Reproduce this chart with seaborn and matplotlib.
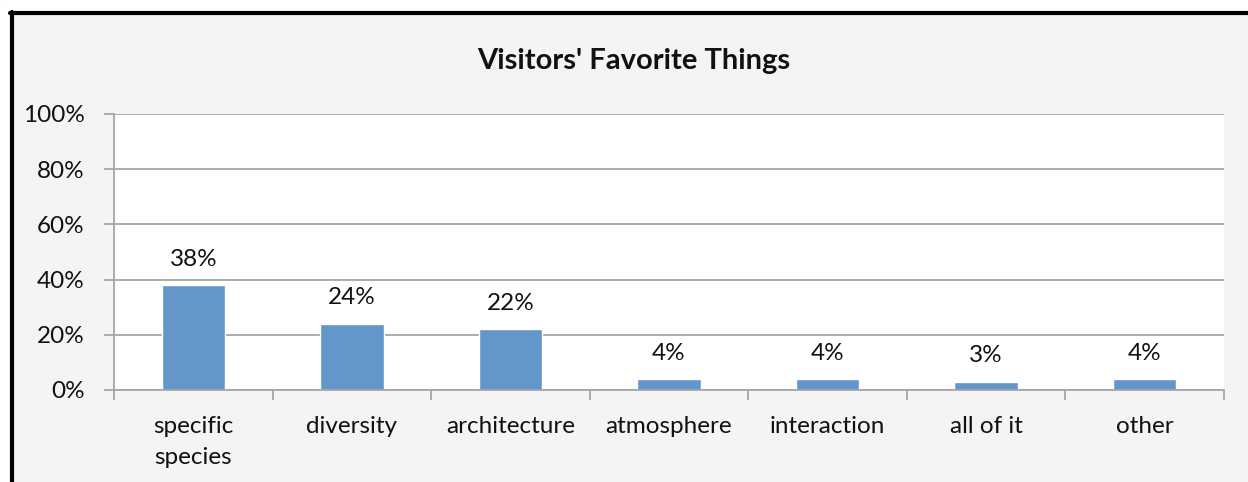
import matplotlib
matplotlib.use("Agg")
import matplotlib.pyplot as plt
import seaborn as sns
import pandas as pd
from matplotlib.lines import Line2D
from matplotlib.ticker import FixedLocator, PercentFormatter

categories = ["specific\nspecies", "diversity", "architecture", "atmosphere",
              "interaction", "all of it", "other"]
shares = [38, 24, 22, 4, 4, 3, 4]
value_labels = ["38%", "24%", "22%", "4%", "4%", "3%", "4%"]
y_ticks = [0, 20, 40, 60, 80, 100]
title = "Visitors' Favorite Things"

df = pd.DataFrame({"category": categories, "share": shares})

sns.set_theme(style="white")
plt.rcParams["font.family"] = ["Lato", "DejaVu Sans"]

bg = "#f4f4f4"
grid_c = "#a6a6a6"
bar_c = "#6396cb"
fs = 17.5

fig = plt.figure(figsize=(12.48, 4.82), dpi=100, facecolor=bg)
ax = fig.add_axes([114 / 1248, 1 - 390 / 482, (1224 - 114) / 1248, (390 - 114) / 482])
ax.set_facecolor("white")

sns.barplot(data=df, x="category", y="share", color=bar_c, width=0.4,
            saturation=1, ax=ax, zorder=3)

ax.set_xlim(-0.5, len(categories) - 0.5)
ax.set_ylim(0, 100)
ax.yaxis.set_major_locator(FixedLocator(y_ticks))
ax.yaxis.set_major_formatter(PercentFormatter(decimals=0))
ax.grid(axis="y", color=grid_c, linewidth=1.3, zorder=0)
ax.set_axisbelow(True)

for s in ["top", "right"]:
    ax.spines[s].set_visible(False)
for s in ["left", "bottom"]:
    ax.spines[s].set_color(grid_c)
    ax.spines[s].set_linewidth(1.3)
    ax.spines[s].set_zorder(4)

ax.set_xlabel("")
ax.set_ylabel("")

# category boundary ticks under the x axis
ax.set_xticks([i - 0.5 for i in range(len(categories) + 1)], minor=False)
ax.set_xticklabels([""] * (len(categories) + 1))
ax.tick_params(axis="x", which="major", direction="out", length=7, width=1.3,
               color=grid_c, bottom=True)
ax.set_xticks(range(len(categories)), minor=True)
ax.set_xticklabels(categories, minor=True, fontsize=fs, color="#111111",
                   linespacing=1.62)
ax.tick_params(axis="x", which="minor", length=0, pad=18.5)
ax.tick_params(axis="y", direction="out", length=7, width=1.3, color=grid_c,
               left=True, labelsize=fs, labelcolor="#111111", pad=14)

for i, (v, lab) in enumerate(zip(shares, value_labels)):
    ax.annotate(lab, (i, v), xytext=(0, 11), textcoords="offset points",
                ha="center", va="bottom", fontsize=fs, color="#111111")

fig.text(634 / 1248, 1 - 61.5 / 482, title, ha="center",
         va="center", fontsize=21, fontweight="bold", color="#111111")

# outer chart frame on the left and top edges
fig.add_artist(Line2D([11.5 / 1248, 11.5 / 1248], [0, 1 - 12 / 482],
                      transform=fig.transFigure, color="black", linewidth=3))
fig.add_artist(Line2D([10 / 1248, 1], [1 - 13 / 482, 1 - 13 / 482],
                      transform=fig.transFigure, color="black", linewidth=3))
fig.patches.append(plt.Rectangle((0, 1 - 12 / 482), 1, 12 / 482,
                                 transform=fig.transFigure, color="white",
                                 zorder=-1))
fig.patches.append(plt.Rectangle((0, 0), 10 / 1248, 1,
                                 transform=fig.transFigure, color="white",
                                 zorder=-1))

fig.savefig("out.png", dpi=100, facecolor=bg)
